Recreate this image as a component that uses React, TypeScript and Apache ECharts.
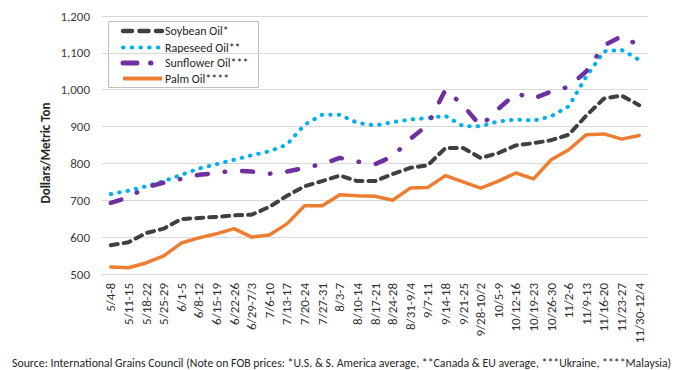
import React, { useEffect, useRef } from "react";
import * as echarts from "echarts";

const categories = ["5/4-8","5/11-15","5/18-22","5/25-29","6/1-5","6/8-12","6/15-19","6/22-26","6/29-7/3","7/6-10","7/13-17","7/20-24","7/27-31","8/3-7","8/10-14","8/17-21","8/24-28","8/31-9/4","9/7-11","9/14-18","9/21-25","9/28-10/2","10/5-9","10/12-16","10/19-23","10/26-30","11/2-6","11/9-13","11/16-20","11/23-27","11/30-12/4"];
const soybean = [578,586,611,623,649,652,655,659,661,682,712,738,752,767,752,752,771,788,795,842,842,815,828,849,855,863,878,930,976,984,958];
const rapeseed = [717,726,738,752,769,786,798,810,822,833,851,905,932,932,910,903,912,919,923,929,901,901,914,919,916,928,955,1036,1104,1108,1081];
const sunflower = [693,708,735,748,758,769,774,781,778,772,778,788,798,815,805,798,819,866,905,1000,958,901,948,990,976,995,1008,1050,1120,1145,1120];
const palm = [519,517,530,549,584,598,609,623,600,606,636,685,685,715,712,711,700,733,735,767,750,733,752,774,758,810,837,878,880,866,876];
const seriesNames = ["Soybean Oil*", "Rapeseed Oil**", "Sunflower Oil***", "Palm Oil****"];
const colors = ["#404040", "#00B0F0", "#7030A0", "#ED7D31"];
const yAxisTitle = "Dollars/Metric Ton";
const sourceText = "Source: International Grains Council (Note on FOB prices: *U.S. & S. America average, **Canada & EU average, ***Ukraine, ****Malaysia)";

const FONT = 'Carlito, "Liberation Sans Narrow", "Liberation Sans", sans-serif';
const TXT = "#333333";

export default function App() {
  const ref = useRef<HTMLDivElement>(null);
  useEffect(() => {
    if (!ref.current) return;
    const chart = echarts.init(ref.current, undefined, { renderer: "svg" });
    const chartDash: any[] = [[7, 6], [0.5, 8], [11, 17, 0.5, 17], "solid"];
    const widths = [4, 4, 4.5, 3.5];
    const legendDash: any[] = [[9, 7.5], [0.5, 8.2], [14, 13.5, 0.5, 30], null];
    const legendWidths = [4.5, 4, 5, 4];
    const legendY = [23, 39.5, 55, 70.5];

    const series = [soybean, rapeseed, sunflower, palm].map((data, i) => ({
      name: seriesNames[i],
      type: "line",
      data,
      symbol: "none",
      lineStyle: { color: colors[i], width: widths[i], type: chartDash[i], cap: "round", join: "round" },
      itemStyle: { color: colors[i] },
    }));

    const legendChildren: any[] = [
      {
        type: "rect",
        shape: { x: 100.5, y: 13.5, width: 150, height: 66 },
        style: { fill: "#fff", stroke: "#BFBFBF", lineWidth: 1 },
      },
    ];
    seriesNames.forEach((name, i) => {
      legendChildren.push({
        type: "line",
        shape: { x1: 115, y1: legendY[i], x2: 154, y2: legendY[i] },
        style: {
          stroke: colors[i],
          lineWidth: legendWidths[i],
          lineDash: legendDash[i] || undefined,
          lineCap: i === 3 ? "butt" : "round",
        },
      });
      legendChildren.push({
        type: "text",
        x: 157,
        y: legendY[i],
        style: { text: name, fontSize: 12, fill: "#262626", fontFamily: FONT, verticalAlign: "middle", align: "left" },
      });
    });

    chart.setOption({
      animation: false,
      textStyle: { fontFamily: FONT },
      grid: { left: 94, right: 40, top: 8, bottom: 104, containLabel: false },
      xAxis: {
        type: "category",
        data: categories,
        boundaryGap: true,
        axisLine: { show: true, lineStyle: { color: "#D9D9D9", width: 1 } },
        axisTick: { show: false },
        axisLabel: { rotate: 90, interval: 0, fontSize: 13, color: TXT, fontFamily: FONT, margin: 9 },
      },
      yAxis: {
        type: "value",
        min: 500,
        max: 1200,
        interval: 100,
        axisLine: { show: false },
        axisTick: { show: false },
        splitLine: { lineStyle: { color: "#D9D9D9", width: 1 } },
        axisLabel: {
          fontSize: 13,
          color: "#404040",
          fontFamily: FONT,
          margin: 12,
          formatter: (v: number) => v.toLocaleString("en-US"),
        },
      },
      graphic: [
        {
          type: "text",
          x: 37,
          y: 145,
          rotation: Math.PI / 2,
          style: { text: yAxisTitle, fontSize: 13, fontWeight: "bold", fill: "#262626", fontFamily: FONT, align: "center", verticalAlign: "middle" },
        },
        {
          type: "text",
          x: 4,
          y: 355,
          style: { text: sourceText, fontSize: 11.8, fill: "#262626", fontFamily: FONT, verticalAlign: "middle" },
        },
        { type: "group", children: legendChildren },
      ],
      series,
    });
    return () => chart.dispose();
  }, []);
  return <div ref={ref} style={{ width: 680, height: 370 }} />;
}
